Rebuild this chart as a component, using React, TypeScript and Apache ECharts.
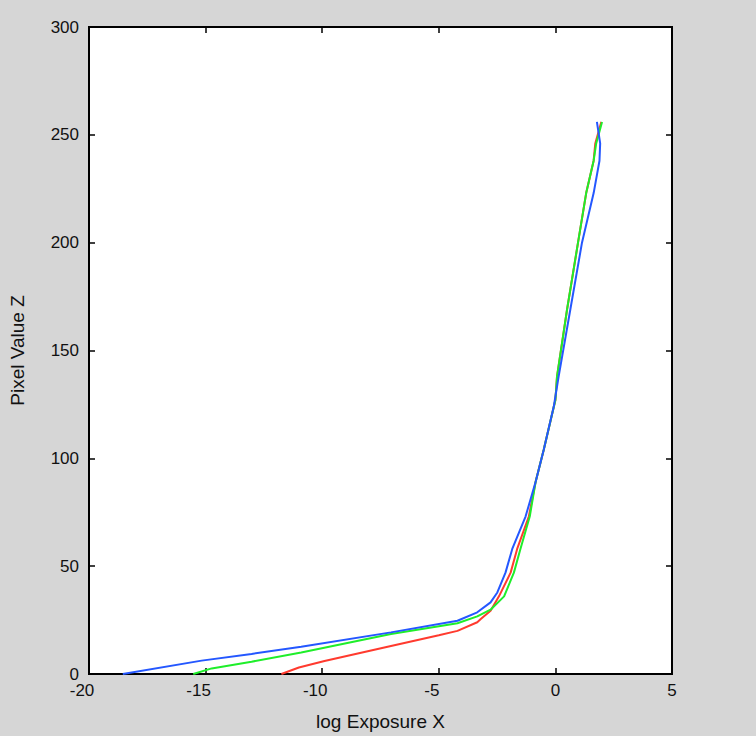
import React, { useEffect, useRef } from "react";
import * as echarts from "echarts";

// Pixel value Z (y) and log exposure X (x) for each colour channel
const redZ = [0, 3, 6, 13, 18, 20, 24, 25.5, 29.3, 36, 47, 58, 73, 89, 104, 127, 138, 169, 200, 223, 238, 246, 256];
const redX = [-11.75, -11.0, -9.9, -7.05, -5.0, -4.2, -3.35, -3.2, -2.78, -2.42, -1.92, -1.64, -1.14, -0.85, -0.5, 0.0, 0.07, 0.5, 0.97, 1.32, 1.64, 1.71, 1.97];

const greenZ = [0, 2.6, 5.7, 10, 18.5, 23.5, 26.7, 29.8, 36, 47, 58, 73, 89, 104, 127, 138, 169, 200, 223, 238, 246, 256];
const greenX = [-15.53, -14.74, -13.03, -10.9, -7.05, -4.2, -3.35, -2.78, -2.2, -1.78, -1.5, -1.1, -0.85, -0.5, 0.0, 0.07, 0.5, 0.97, 1.32, 1.64, 1.75, 2.0];

const blueZ = [0, 6.2, 9.3, 12.6, 19.3, 24.7, 28.6, 33.2, 37.8, 47, 58, 73, 89, 104, 124, 138, 169, 200, 223, 238, 246, 256];
const blueX = [-18.55, -15.17, -13.03, -10.9, -7.05, -4.2, -3.35, -2.78, -2.49, -2.14, -1.85, -1.28, -0.85, -0.5, -0.07, 0.14, 0.64, 1.14, 1.64, 1.89, 1.92, 1.78];

const xTicks = { min: -20, max: 5, interval: 5 };
const yTicks = { min: 0, max: 300, interval: 50 };
const xName = "log Exposure X";
const yName = "Pixel Value Z";

const pairs = (xs: number[], zs: number[]) => xs.map((x, i) => [x, zs[i]]);

export default function App() {
  const ref = useRef<HTMLDivElement>(null);
  useEffect(() => {
    if (!ref.current) return;
    const chart = echarts.init(ref.current, undefined, { renderer: "svg" });
    const font = "'Liberation Sans Narrow', 'Liberation Sans', Arial, sans-serif";
    const nameFont = "'Liberation Sans', Arial, sans-serif";
    const tickStyle = { show: true, inside: true, length: 6, lineStyle: { color: "#000", width: 1.5 } };
    const lineAxis = { show: true, onZero: false, lineStyle: { color: "#000", width: 2 } };
    const labelBase = { color: "#111", fontSize: 17, fontFamily: font };
    chart.setOption({
      animation: false,
      backgroundColor: "#d6d6d6",
      grid: {
        left: 87,
        top: 27,
        width: 585,
        height: 648,
        show: true,
        backgroundColor: "#ffffff",
        borderColor: "#000",
        borderWidth: 2,
      },
      xAxis: [
        {
          type: "value",
          ...xTicks,
          position: "bottom",
          name: xName,
          nameLocation: "middle",
          nameGap: 38,
          nameTextStyle: { color: "#111", fontSize: 19, fontFamily: nameFont },
          axisLine: lineAxis,
          axisTick: tickStyle,
          axisLabel: {
            ...labelBase,
            margin: 8,
            formatter: (v: number) => (v < 0 ? `{neg|${v}}` : `${v}`),
            rich: { neg: { ...labelBase, padding: [0, 14, 0, 0] } },
          },
          splitLine: { show: false },
        },
        {
          type: "value",
          ...xTicks,
          position: "top",
          axisLine: lineAxis,
          axisTick: tickStyle,
          axisLabel: { show: false },
          splitLine: { show: false },
        },
      ],
      yAxis: [
        {
          type: "value",
          ...yTicks,
          position: "left",
          name: yName,
          nameLocation: "middle",
          nameGap: 62,
          nameTextStyle: { color: "#111", fontSize: 19, fontFamily: nameFont },
          axisLine: lineAxis,
          axisTick: tickStyle,
          axisLabel: { ...labelBase, margin: 10 },
          splitLine: { show: false },
        },
        {
          type: "value",
          ...yTicks,
          position: "right",
          axisLine: lineAxis,
          axisTick: tickStyle,
          axisLabel: { show: false },
          splitLine: { show: false },
        },
      ],
      series: [
        {
          type: "line",
          data: pairs(redX, redZ),
          showSymbol: false,
          lineStyle: { color: "#ff3a2e", width: 2 },
          itemStyle: { color: "#ff3a2e" },
          xAxisIndex: 0,
          yAxisIndex: 0,
        },
        {
          type: "line",
          data: pairs(greenX, greenZ),
          showSymbol: false,
          lineStyle: { color: "#1eee2a", width: 2 },
          itemStyle: { color: "#1eee2a" },
          xAxisIndex: 0,
          yAxisIndex: 0,
        },
        {
          type: "line",
          data: pairs(blueX, blueZ),
          showSymbol: false,
          lineStyle: { color: "#2457ff", width: 2 },
          itemStyle: { color: "#2457ff" },
          xAxisIndex: 0,
          yAxisIndex: 0,
        },
      ],
    });
    return () => chart.dispose();
  }, []);
  return (
    <div
      ref={ref}
      style={{ position: "fixed", left: 0, top: 0, width: 756, height: 736 }}
    />
  );
}
